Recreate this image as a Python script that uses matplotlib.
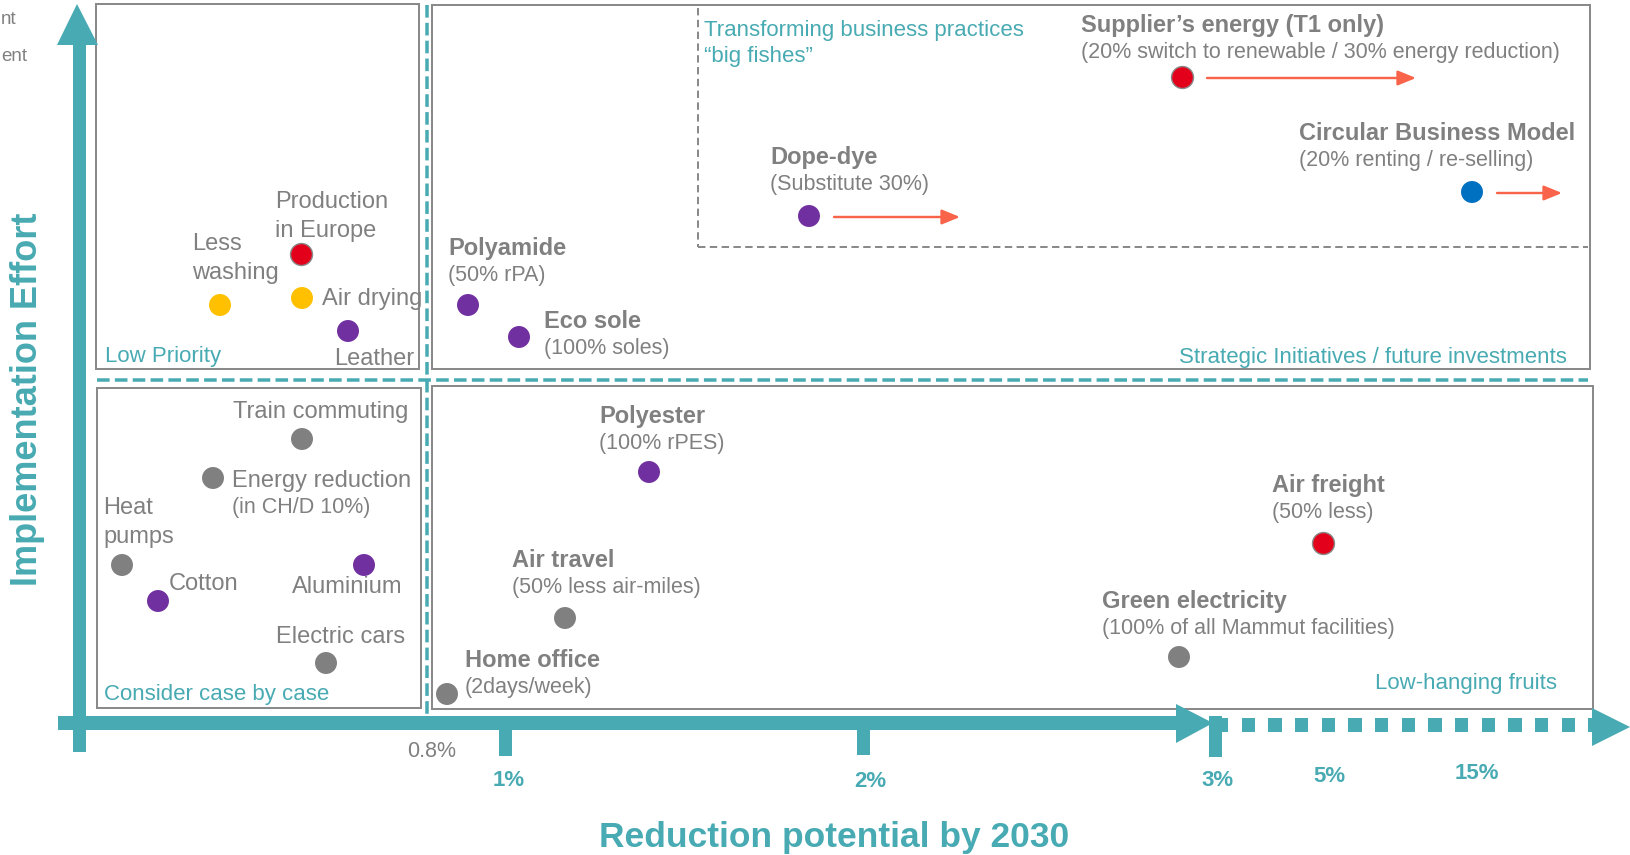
import matplotlib
matplotlib.use("Agg")
import matplotlib.pyplot as plt
from matplotlib.patches import Rectangle, Polygon

# ---------------- data ----------------
initiatives = ["Less washing", "Production in Europe", "Air drying", "Leather",
               "Polyamide", "Eco sole", "Dope-dye", "Supplier’s energy (T1 only)",
               "Circular Business Model", "Train commuting", "Energy reduction",
               "Heat pumps", "Cotton", "Aluminium", "Electric cars", "Polyester",
               "Air travel", "Home office", "Green electricity", "Air freight"]
details = [None, None, None, None,
           "(50% rPA)", "(100% soles)", "(Substitute 30%)",
           "(20% switch to renewable / 30% energy reduction)",
           "(20% renting / re-selling)", None, "(in CH/D 10%)",
           None, None, None, None, "(100% rPES)",
           "(50% less air-miles)", "(2days/week)",
           "(100% of all Mammut facilities)", "(50% less)"]
# placement on the (non-linear) reduction-potential axis and the effort axis
reduction = [220, 301, 302, 348, 468, 519, 809, 1182, 1472, 302, 213,
             122, 158, 364, 326, 649, 565, 447, 1179, 1323]
effort = [305, 254, 298, 331, 305, 337, 216, 77, 192, 439, 478,
          565, 601, 565, 663, 472, 618, 694, 657, 543]
groups = ["use", "supply", "use", "material", "material", "material", "material",
          "supply", "business", "operations", "operations", "operations",
          "material", "material", "operations", "material", "operations",
          "operations", "operations", "supply"]
# initiatives with further upside (arrow end on the reduction axis)
upside_items = ["Dope-dye", "Supplier’s energy (T1 only)", "Circular Business Model"]
upside_to = [960, 1416, 1562]

quadrants = ["Low Priority", "Consider case by case",
             "Strategic Initiatives / future investments", "Low-hanging fruits"]
tick_labels = ["0.8%", "1%", "2%", "3%", "5%", "15%"]
x_title = "Reduction potential by 2030"
y_title = "Implementation Effort"
big_fish = ["Transforming business practices", "“big fishes”"]
legend_remnants = ["nt", "ent"]

# ---------------- style ----------------
TEAL = "#48AAB2"
GREY = "#808080"
BOX = "#8a8a8a"
ARROW = "#F9634A"
group_colors = {"material": "#7030A0", "supply": "#E2001A", "use": "#FFC000",
                "operations": "#808080", "business": "#0070C0"}
plt.rcParams["font.family"] = ["Liberation Sans", "DejaVu Sans"]

fig = plt.figure(figsize=(16.3, 8.55), dpi=100)
ax = fig.add_axes([0, 0, 1, 1])
ax.set_xlim(0, 1630)
ax.set_ylim(855, 0)
ax.axis("off")

PX = 0.72  # points per pixel

# quadrant boxes
def box(x0, y0, x1, y1):
    ax.add_patch(Rectangle((x0, y0), x1 - x0, y1 - y0, fill=False,
                           ec=BOX, lw=2 * PX, zorder=1))
box(96, 4, 419, 369)
box(432, 5, 1590, 369)
box(97, 388, 421, 708)
box(432, 386, 1593, 709)

# "big fishes" dashed area
ax.plot([698, 698], [8, 247], color=BOX, lw=2 * PX, ls=(0, (3.7, 2.2)), zorder=1)
ax.plot([698, 1588], [247, 247], color=BOX, lw=2 * PX, ls=(0, (3.7, 2.2)), zorder=1)

# teal dashed separators
ax.plot([427, 427], [5, 716], color=TEAL, lw=3.5 * PX, ls=(0, (3.6, 1.5)), zorder=2)
ax.plot([97, 1588], [380, 380], color=TEAL, lw=3.5 * PX, ls=(0, (3.6, 1.5)), zorder=2)

# y axis arrow
ax.add_patch(Rectangle((73, 40), 13, 712, color=TEAL, lw=0, zorder=3))
ax.add_patch(Polygon([(57, 45), (77, 4), (98, 45)], closed=True, color=TEAL, lw=0, zorder=3))

# x axis arrow (solid part)
ax.add_patch(Rectangle((58, 716), 1120, 14, color=TEAL, lw=0, zorder=3))
ax.add_patch(Polygon([(1176, 704), (1213, 723), (1176, 743)], closed=True,
                     color=TEAL, lw=0, zorder=3))
# dotted extension
for k in range(15):
    x0 = 1215 + 26.67 * k
    ax.add_patch(Rectangle((x0, 718), min(13.3, 1592 - x0), 14, color=TEAL, lw=0, zorder=3))
ax.add_patch(Polygon([(1592, 708), (1630, 727), (1592, 746)], closed=True,
                     color=TEAL, lw=0, zorder=3))

# ticks
for xc, y1 in [(505, 756), (863, 755), (1215, 757)]:
    ax.add_patch(Rectangle((xc - 6.5, 716), 13, y1 - 716, color=TEAL, lw=0, zorder=3))

# tick labels
tick_pos = [(432, 757), (509, 786), (870, 787), (1217, 786), (1329, 782), (1477, 779)]
for lab, (tx, ty) in zip(tick_labels, tick_pos):
    if lab == "0.8%":
        ax.text(tx, ty, lab, ha="center", va="baseline", fontsize=15.5, color=GREY)
    else:
        ax.text(tx, ty, lab, ha="center", va="baseline", fontsize=16,
                color=TEAL, fontweight="bold")

# axis titles
ax.text(834, 847, x_title, ha="center", va="baseline", fontsize=25.5,
        color=TEAL, fontweight="bold")
ax.text(28, 399, y_title, ha="center", va="center", rotation=90,
        fontsize=26, color=TEAL, fontweight="bold")

# quadrant labels
quad_pos = [(105, 362, "left"), (104, 700, "left"), (1567, 363, "right"), (1557, 689, "right")]
for q, (qx, qy, ha) in zip(quadrants, quad_pos):
    ax.text(qx, qy, q, ha=ha, va="baseline", fontsize=16, color=TEAL)
ax.text(704, 36, big_fish[0], ha="left", va="baseline", fontsize=16, color=TEAL)
ax.text(704, 62, big_fish[1], ha="left", va="baseline", fontsize=16, color=TEAL)

# legend remnants at the top-left edge
ax.text(1, 24, legend_remnants[0], ha="left", va="baseline", fontsize=13.5, color=GREY)
ax.text(1, 61, legend_remnants[1], ha="left", va="baseline", fontsize=13.5, color=GREY)

# points
for name, xv, yv, g in zip(initiatives, reduction, effort, groups):
    ec = "#8a8a8a" if g == "supply" else "none"
    ax.scatter([xv], [yv], s=250, color=group_colors[g], edgecolors=ec,
               linewidths=1.0, zorder=5)

# upside arrows
for name, xe in zip(upside_items, upside_to):
    i = initiatives.index(name)
    xs, ys = reduction[i] + 25, effort[i] + 1
    ax.annotate("", xy=(xe, ys), xytext=(xs, ys),
                arrowprops=dict(arrowstyle="-|>,head_length=1.1,head_width=0.45",
                                color=ARROW, lw=2.4 * PX, shrinkA=0, shrinkB=0),
                zorder=4)

# labels
plain_labels = {
    "Production in Europe": (["Production", "in Europe"], 275, 208),
    "Less washing": (["Less", "washing"], 192, 250),
    "Air drying": (["Air drying"], 322, 305),
    "Leather": (["Leather"], 334, 365),
    "Train commuting": (["Train commuting"], 233, 418),
    "Energy reduction": (["Energy reduction"], 232, 487),
    "Heat pumps": (["Heat", "pumps"], 103, 514),
    "Cotton": (["Cotton"], 169, 590),
    "Aluminium": (["Aluminium"], 292, 593),
    "Electric cars": (["Electric cars"], 276, 643),
}
bold_labels = {
    "Polyamide": (448, 255), "Eco sole": (544, 328), "Dope-dye": (770, 164),
    "Supplier’s energy (T1 only)": (1081, 32), "Circular Business Model": (1299, 140),
    "Polyester": (599, 423), "Air travel": (512, 567), "Home office": (465, 667),
    "Green electricity": (1102, 608), "Air freight": (1272, 492),
}
for name, det in zip(initiatives, details):
    if name in plain_labels:
        lines, lx, ly = plain_labels[name]
        for j, ln in enumerate(lines):
            ax.text(lx, ly + 29 * j, ln, ha="left", va="baseline", fontsize=17, color=GREY)
        if det:
            ax.text(lx, ly + 26, det, ha="left", va="baseline", fontsize=15.5, color=GREY)
    elif name in bold_labels:
        lx, ly = bold_labels[name]
        ax.text(lx, ly, name, ha="left", va="baseline", fontsize=17,
                color=GREY, fontweight="bold")
        if det:
            ax.text(lx, ly + 26, det, ha="left", va="baseline", fontsize=15.5, color=GREY)

fig.savefig("out.png", dpi=100)
